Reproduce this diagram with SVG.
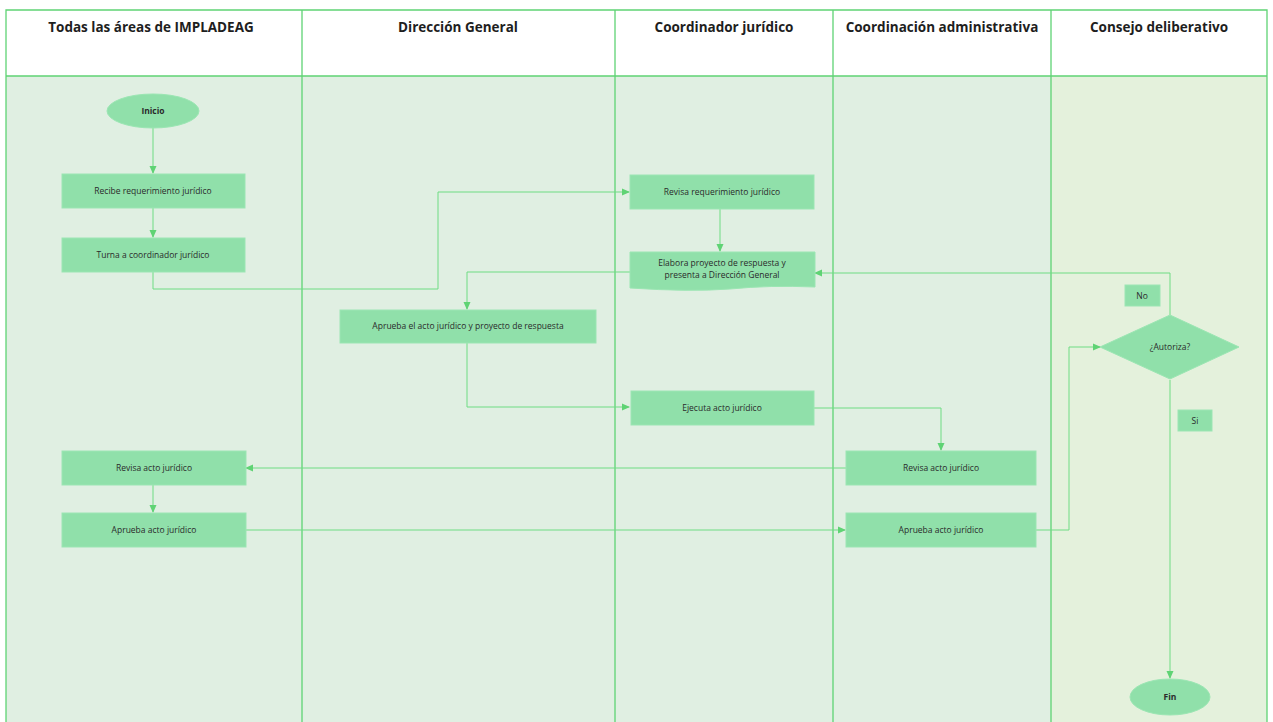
<svg xmlns="http://www.w3.org/2000/svg" width="1273" height="722" viewBox="0 0 1273 722">
<style>
.hdr{font-family:"Open Sans","Liberation Sans",sans-serif;font-size:13.5px;font-weight:bold;fill:#1e1e1e;text-anchor:middle}
.lbl{font-family:"Open Sans","Liberation Sans",sans-serif;font-size:8.5px;fill:#2a2a2a;text-anchor:middle}
.node{fill:#90e0aa;stroke:#9be6b3;stroke-width:1}
.lane{stroke:#5fd374;stroke-width:1.3;fill:none}
.conn{stroke:#6fdc83;stroke-width:1;fill:none}
</style>
<defs>
<marker id="arr" markerWidth="8" markerHeight="8" refX="7" refY="4" orient="auto" markerUnits="userSpaceOnUse">
<path d="M0,0.5 L8,4 L0,7.5 Z" fill="#5fd374"/>
</marker>
</defs>
<rect x="0" y="0" width="1273" height="722" fill="#ffffff"/>
<g id="lanes">
<rect x="6" y="76" width="1045" height="646" fill="#e0efe2"/>
<rect x="1051" y="76" width="216" height="646" fill="#e4f1dc"/>
<rect x="6" y="10" width="1261" height="66" fill="#ffffff"/>
<path class="lane" d="M6,722 V10 H1267 V722 M6,76 H1267 M302,10 V722 M615,10 V722 M833,10 V722 M1051,10 V722"/>
<text class="hdr" x="151" y="32">Todas las áreas de IMPLADEAG</text>
<text class="hdr" x="458" y="32">Dirección General</text>
<text class="hdr" x="724" y="32">Coordinador jurídico</text>
<text class="hdr" x="942" y="32">Coordinación administrativa</text>
<text class="hdr" x="1159" y="32">Consejo deliberativo</text>
</g>
<g id="connectors">
<path class="conn" d="M153,128 V173" marker-end="url(#arr)"/>
<path class="conn" d="M153,208 V237" marker-end="url(#arr)"/>
<path class="conn" d="M153,272 V289 H438 V192 H629" marker-end="url(#arr)"/>
<path class="conn" d="M720,209 V251" marker-end="url(#arr)"/>
<path class="conn" d="M630,272 H467 V309" marker-end="url(#arr)"/>
<path class="conn" d="M1170,315 V273 H815" marker-end="url(#arr)"/>
<path class="conn" d="M467,343 V407 H629" marker-end="url(#arr)"/>
<path class="conn" d="M814,408 H941 V450" marker-end="url(#arr)"/>
<path class="conn" d="M846,468 H246" marker-end="url(#arr)"/>
<path class="conn" d="M153,485 V512" marker-end="url(#arr)"/>
<path class="conn" d="M246,530 H845" marker-end="url(#arr)"/>
<path class="conn" d="M1036,530 H1069 V347 H1100" marker-end="url(#arr)"/>
<path class="conn" d="M1170,380 V678" marker-end="url(#arr)"/>
</g>
<g id="inicio">
<ellipse class="node" cx="153" cy="111" rx="46" ry="17"/>
<text class="lbl" x="153" y="114" font-weight="bold">Inicio</text>
</g>
<g id="recibe">
<rect class="node" x="62" y="174" width="183" height="34"/>
<text class="lbl" x="153" y="194">Recibe requerimiento jurídico</text>
</g>
<g id="turna">
<rect class="node" x="62" y="238" width="183" height="34"/>
<text class="lbl" x="153" y="258">Turna a coordinador jurídico</text>
</g>
<g id="revisa-req">
<rect class="node" x="630" y="175" width="184" height="34"/>
<text class="lbl" x="722" y="195">Revisa requerimiento jurídico</text>
</g>
<g id="elabora">
<path class="node" d="M630,252 H815 V287 Q770,285 730,289 Q690,292 630,288 Z"/>
<text class="lbl" x="722" y="266">Elabora proyecto de respuesta y</text>
<text class="lbl" x="722" y="278">presenta a Dirección General</text>
</g>
<g id="aprueba-dg">
<rect class="node" x="340" y="310" width="256" height="33"/>
<text class="lbl" x="468" y="329">Aprueba el acto jurídico y proyecto de respuesta</text>
</g>
<g id="ejecuta">
<rect class="node" x="631" y="391" width="183" height="34"/>
<text class="lbl" x="722" y="411">Ejecuta acto jurídico</text>
</g>
<g id="revisa-acto-areas">
<rect class="node" x="62" y="451" width="184" height="34"/>
<text class="lbl" x="154" y="471">Revisa acto jurídico</text>
</g>
<g id="aprueba-acto-areas">
<rect class="node" x="62" y="513" width="184" height="34"/>
<text class="lbl" x="154" y="533">Aprueba acto jurídico</text>
</g>
<g id="revisa-acto-admin">
<rect class="node" x="846" y="451" width="190" height="34"/>
<text class="lbl" x="941" y="471">Revisa acto jurídico</text>
</g>
<g id="aprueba-acto-admin">
<rect class="node" x="846" y="513" width="190" height="34"/>
<text class="lbl" x="941" y="533">Aprueba acto jurídico</text>
</g>
<g id="no">
<rect class="node" x="1125" y="285" width="35" height="21"/>
<text class="lbl" x="1142" y="299">No</text>
</g>
<g id="autoriza">
<polygon class="node" points="1100,347 1170,315 1239,347 1170,379"/>
<text class="lbl" x="1170" y="350">¿Autoriza?</text>
</g>
<g id="si">
<rect class="node" x="1178" y="410" width="34" height="21"/>
<text class="lbl" x="1195" y="424">Si</text>
</g>
<g id="fin">
<ellipse class="node" cx="1170" cy="697" rx="40" ry="18"/>
<text class="lbl" x="1170" y="700" font-weight="bold">Fin</text>
</g>
</svg>
